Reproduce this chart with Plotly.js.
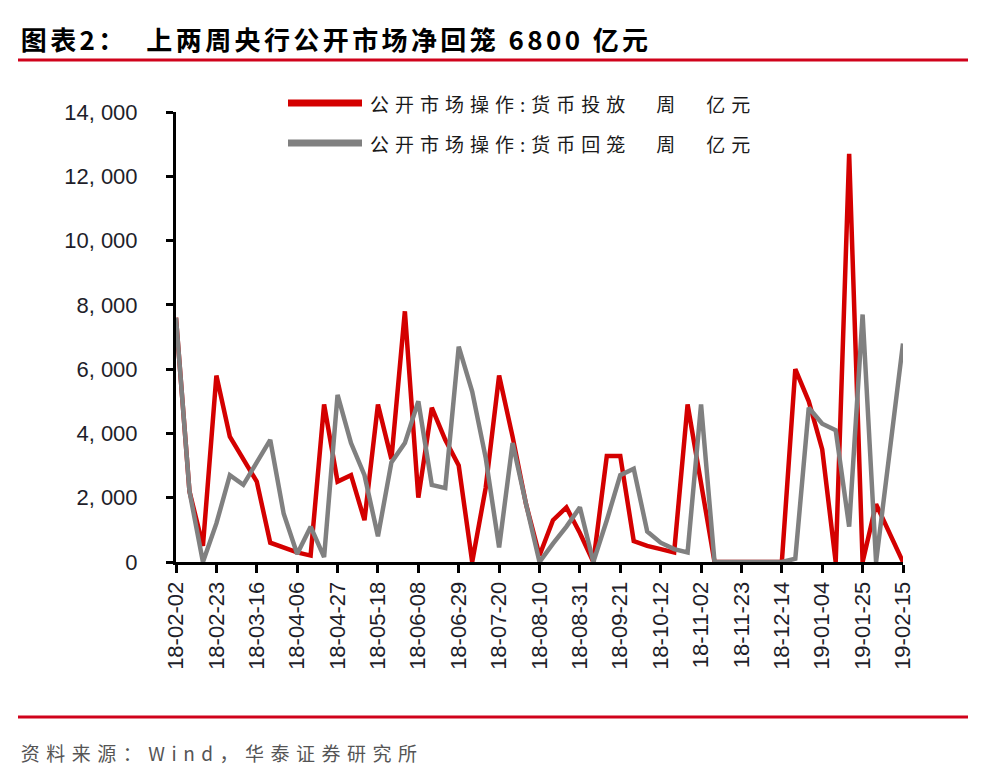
<!DOCTYPE html>
<html>
<head>
<meta charset="utf-8">
<script src="https://cdn.plot.ly/plotly-3.0.1.min.js"></script>
<style>
  html, body { margin: 0; padding: 0; background: #fff; }
  #chart { width: 990px; height: 782px; }
  .annotation[data-index="0"] text { letter-spacing: 3.4px; }
  .annotation[data-index="1"] text,
  .annotation[data-index="2"] text { letter-spacing: 6px; }
  .annotation[data-index="3"] text { letter-spacing: 6.5px; }
</style>
</head>
<body>
<div id="chart"></div>
<script>
// Weekly open-market operations, 100 million yuan
const weeks = [
  '18-02-02','18-02-09','18-02-16','18-02-23','18-03-02','18-03-09','18-03-16','18-03-23','18-03-30',
  '18-04-06','18-04-13','18-04-20','18-04-27','18-05-04','18-05-11','18-05-18','18-05-25','18-06-01',
  '18-06-08','18-06-15','18-06-22','18-06-29','18-07-06','18-07-13','18-07-20','18-07-27','18-08-03',
  '18-08-10','18-08-17','18-08-24','18-08-31','18-09-07','18-09-14','18-09-21','18-09-28','18-10-05',
  '18-10-12','18-10-19','18-10-26','18-11-02','18-11-09','18-11-16','18-11-23','18-11-30','18-12-07',
  '18-12-14','18-12-21','18-12-28','19-01-04','19-01-11','19-01-18','19-01-25','19-02-01','19-02-08',
  '19-02-15'
];

const injection = [
  7600, 2200, 500, 5800, 3900, 3200, 2500, 600, 450,
  300, 200, 4900, 2500, 2700, 1300, 4900, 3200, 7800,
  2000, 4800, 3800, 3000, 0, 2300, 5800, 3900, 1800,
  200, 1300, 1700, 900, 0, 3300, 3300, 650, 500,
  400, 300, 4900, 2400, 0, 0, 0, 0, 0,
  0, 6000, 5000, 3500, 0, 12700, 0, 1800, 900,
  0
];

const withdrawal = [
  7600, 2200, 0, 1200, 2700, 2400, 3100, 3800, 1500,
  250, 1100, 150, 5200, 3700, 2700, 800, 3100, 3700,
  5000, 2400, 2300, 6700, 5300, 3250, 450, 3700, 1800,
  0, 570, 1100, 1700, 0, 1300, 2700, 2900, 950,
  600, 400, 300, 4900, 0, 0, 0, 0, 0,
  0, 100, 4800, 4300, 4100, 1100, 7700, 0, 3400,
  6800
];

const seriesNames = ['公开市场操作:货币投放　周　亿元', '公开市场操作:货币回笼　周　亿元'];
const seriesColors = ['#D40000', '#808080'];

const xTickLabels = weeks.filter((w, i) => i % 3 === 0);
const yTickValues = [0, 2000, 4000, 6000, 8000, 10000, 12000, 14000];
const yTickLabels = ['0', '2, 000', '4, 000', '6, 000', '8, 000', '10, 000', '12, 000', '14, 000'];

const chartTitle = '<b>图表2：  上两周央行公开市场净回笼 6800 亿元</b>';
const sourceNote = '资料来源：Wind，华泰证券研究所';

// plot-area geometry in page pixels
const W = 990, H = 782;
const L = 176, R = 903, T = 112, B = 562;
const px = x => (x - L) / (R - L);
const py = y => (B - y) / (B - T);

const traces = [
  { x: weeks, y: injection, name: seriesNames[0], type: 'scatter', mode: 'lines',
    line: { color: seriesColors[0], width: 4.5 }, hoverinfo: 'x+y' },
  { x: weeks, y: withdrawal, name: seriesNames[1], type: 'scatter', mode: 'lines',
    line: { color: seriesColors[1], width: 4.5 }, hoverinfo: 'x+y' }
];

const axisFont = { family: 'Liberation Sans, Arial, sans-serif', size: 22, color: '#1e1e2a' };
const cjk = 'Noto Sans CJK SC, sans-serif';

const layout = {
  width: W, height: H,
  margin: { l: L, r: W - R, t: T, b: H - B, pad: 0 },
  paper_bgcolor: '#ffffff', plot_bgcolor: '#ffffff',
  showlegend: false,
  xaxis: {
    type: 'category', range: [0, weeks.length - 1],
    tickmode: 'array', tickvals: xTickLabels, ticktext: xTickLabels,
    tickangle: -90, tickfont: axisFont,
    showline: true, linecolor: '#000', linewidth: 3,
    ticks: 'outside', ticklen: 8, tickwidth: 3, tickcolor: '#000',
    showgrid: false, zeroline: false, fixedrange: true
  },
  yaxis: {
    range: [0, 14000],
    tickmode: 'array', tickvals: yTickValues, ticktext: yTickLabels,
    tickfont: axisFont,
    showline: true, linecolor: '#000', linewidth: 3,
    ticks: 'outside', ticklen: 7, tickwidth: 3, tickcolor: '#000',
    ticklabelstandoff: 24,
    showgrid: false, zeroline: false, fixedrange: true
  },
  shapes: [
    // rule under the heading
    { type: 'line', xref: 'paper', yref: 'paper', x0: px(18), x1: px(968), y0: py(60), y1: py(60),
      line: { color: '#D0021B', width: 3 } },
    // rule above the source note
    { type: 'line', xref: 'paper', yref: 'paper', x0: px(18), x1: px(968), y0: py(717), y1: py(717),
      line: { color: '#D0021B', width: 3 } },
    // legend swatches
    { type: 'line', xref: 'paper', yref: 'paper', x0: px(288), x1: px(362), y0: py(103), y1: py(103),
      line: { color: seriesColors[0], width: 7 } },
    { type: 'line', xref: 'paper', yref: 'paper', x0: px(288), x1: px(362), y0: py(143), y1: py(143),
      line: { color: seriesColors[1], width: 7 } }
  ],
  // texts are centred on their spans so that added letter spacing grows evenly
  annotations: [
    { text: chartTitle, xref: 'paper', yref: 'paper', x: px(336), y: py(38),
      xanchor: 'center', yanchor: 'middle', showarrow: false,
      font: { family: cjk, size: 26, color: '#000' } },
    { text: seriesNames[0], xref: 'paper', yref: 'paper', x: px(563), y: py(103),
      xanchor: 'center', yanchor: 'middle', showarrow: false,
      font: { family: cjk, size: 19, color: '#1a1a1a' } },
    { text: seriesNames[1], xref: 'paper', yref: 'paper', x: px(563), y: py(143),
      xanchor: 'center', yanchor: 'middle', showarrow: false,
      font: { family: cjk, size: 19, color: '#1a1a1a' } },
    { text: sourceNote, xref: 'paper', yref: 'paper', x: px(222), y: py(752),
      xanchor: 'center', yanchor: 'middle', showarrow: false,
      font: { family: cjk, size: 19, color: '#555' } }
  ]
};

Plotly.newPlot('chart', traces, layout, { displayModeBar: false, staticPlot: true });
</script>
</body>
</html>
